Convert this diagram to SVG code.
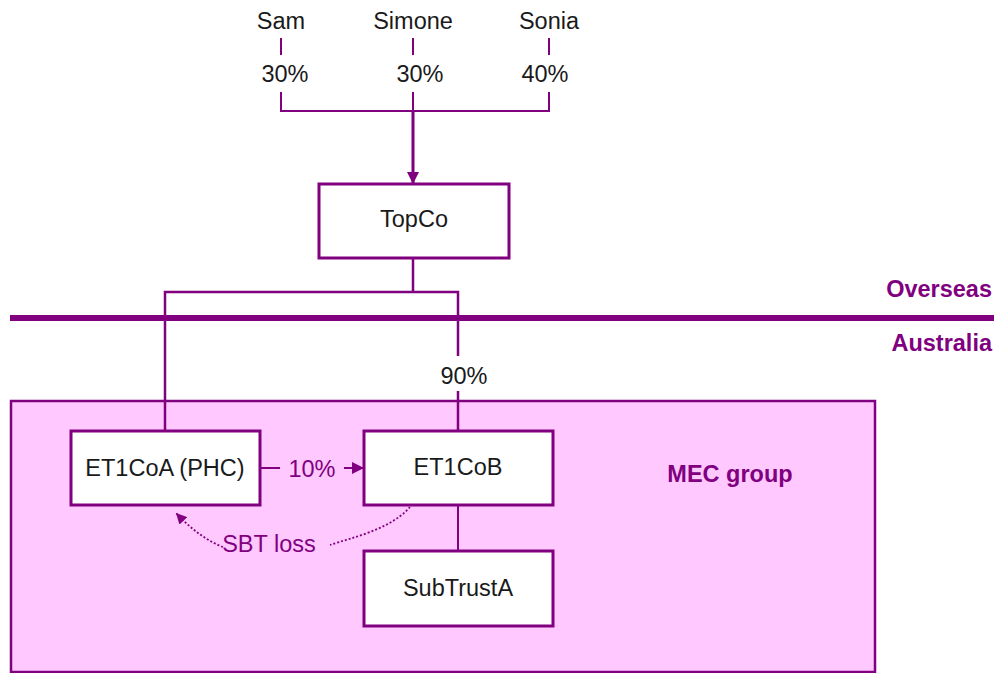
<svg xmlns="http://www.w3.org/2000/svg" width="1007" height="673" viewBox="0 0 1007 673">
<defs>
<style>
.t{font-family:"Liberation Sans",Arial,sans-serif;font-size:23.5px;fill:#1a1a1a;text-anchor:middle}
.p{fill:#800080}
.b{font-weight:bold;fill:#800080}
.box{fill:#fff;stroke:#800080;stroke-width:3}
.ln{fill:none;stroke:#800080;stroke-width:2}
</style>
<marker id="ah" viewBox="0 0 10 10" refX="10" refY="5" markerWidth="4" markerHeight="5.5" orient="auto" markerUnits="strokeWidth"><path d="M0,0L10,5L0,10z" fill="#800080"/></marker>
<marker id="ah2" viewBox="0 0 10 10" refX="10" refY="5" markerWidth="6" markerHeight="6" orient="auto" markerUnits="strokeWidth"><path d="M0,0L10,5L0,10z" fill="#800080"/></marker>
</defs>
<rect width="1007" height="673" fill="#fff"/>
<g id="mec">
<rect x="11" y="401" width="864" height="271" fill="#ffc8ff" stroke="#800080" stroke-width="2.5"/>
<text class="t b" x="730" y="482">MEC group</text>
</g>
<g id="jurisdictions">
<line x1="10" y1="318" x2="994" y2="318" stroke="#800080" stroke-width="6"/>
<text class="t b" x="992" y="297" style="text-anchor:end">Overseas</text>
<text class="t b" x="992" y="351" style="text-anchor:end">Australia</text>
</g>
<g id="connectors">
<path class="ln" d="M281,38V55M413,38V55M549,38V55"/>
<path class="ln" d="M281,92V111H549V92M413,92V111"/>
<path class="ln" d="M413,111V184" style="stroke-width:3" marker-end="url(#ah)"/>
<path class="ln" d="M413,258V292H165V431M413,292H458V356M458,391V431" style="stroke-width:2.5"/>
<path class="ln" d="M458,505V551"/>
<line class="ln" x1="260" y1="468" x2="280" y2="468"/>
<line class="ln" x1="344" y1="468" x2="364" y2="468" marker-end="url(#ah2)"/>
<path d="M410,507C390,530 350,538 330,545" fill="none" stroke="#800080" stroke-width="1.8" stroke-dasharray="2,2"/>
<path d="M223,547C205,540 190,528 176,513" fill="none" stroke="#800080" stroke-width="1.8" stroke-dasharray="2,2" marker-end="url(#ah2)"/>
<text class="t p" x="269" y="552">SBT loss</text>
<text class="t p" x="312" y="477">10%</text>
<text class="t" x="464" y="384">90%</text>
</g>
<g id="sam"><text class="t" x="281" y="29">Sam</text><text class="t" x="285" y="82">30%</text></g>
<g id="simone"><text class="t" x="413" y="29">Simone</text><text class="t" x="420" y="82">30%</text></g>
<g id="sonia"><text class="t" x="549" y="29">Sonia</text><text class="t" x="545" y="82">40%</text></g>
<g id="topco"><rect class="box" x="319" y="184" width="190" height="74"/><text class="t" x="414" y="227">TopCo</text></g>
<g id="et1coa"><rect class="box" x="71" y="431" width="189" height="74"/><text class="t" x="165" y="476">ET1CoA (PHC)</text></g>
<g id="et1cob"><rect class="box" x="364" y="431" width="189" height="74"/><text class="t" x="458" y="475">ET1CoB</text></g>
<g id="subtrusta"><rect class="box" x="364" y="551" width="189" height="75"/><text class="t" x="458" y="596">SubTrustA</text></g>
</svg>
